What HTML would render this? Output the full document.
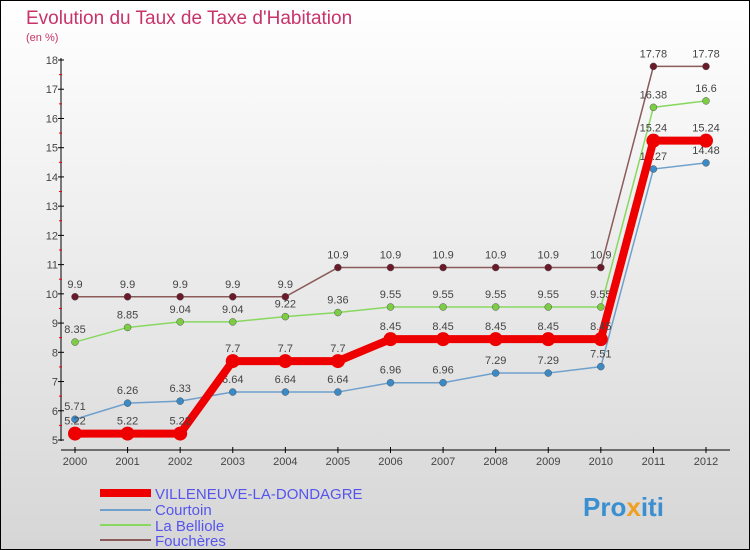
<!DOCTYPE html>
<html><head><meta charset="utf-8"><style>
body{margin:0}
svg{display:block;font-family:"Liberation Sans",sans-serif}
</style></head><body>
<svg id="c" width="750" height="550" viewBox="0 0 750 550">
<defs><linearGradient id="bg" x1="0" y1="0" x2="0" y2="1"><stop offset="0" stop-color="#ffffff"/><stop offset="1" stop-color="#d6d6d6"/></linearGradient></defs>
<rect x="0.5" y="0.5" width="749" height="549" fill="url(#bg)" stroke="#000"/>
<text x="26" y="24" font-size="19" fill="#c8336a">Evolution du Taux de Taxe d'Habitation</text>
<text x="26" y="41" font-size="11" fill="#c8336a">(en %)</text>
<g id="axes"></g><g id="series"></g>
<g>
<line x1="100" y1="493" x2="151" y2="493" stroke="#e00" stroke-width="8"/>
<text x="155" y="499" font-size="15" fill="#5555ee">VILLENEUVE-LA-DONDAGRE</text>
<line x1="100" y1="510" x2="151" y2="510" stroke="#6fa0cc" stroke-width="2"/>
<text x="155" y="515" font-size="15" fill="#5555ee">Courtoin</text>
<line x1="100" y1="525" x2="151" y2="525" stroke="#88d860" stroke-width="2"/>
<text x="155" y="531" font-size="15" fill="#5555ee">La Belliole</text>
<line x1="100" y1="540" x2="151" y2="540" stroke="#8b5a5a" stroke-width="2"/>
<text x="155" y="546" font-size="15" fill="#5555ee">Fouchères</text>
</g>
<text x="583" y="516" font-size="26" font-weight="bold" fill="#3a8fd0">Pro<tspan fill="#f0a020">x</tspan>iti</text>
</svg>
<script>
const years=[2000,2001,2002,2003,2004,2005,2006,2007,2008,2009,2010,2011,2012];
const yTicks=[5,6,7,8,9,10,11,12,13,14,15,16,17,18];
const villeneuve=[5.22,5.22,5.22,7.7,7.7,7.7,8.45,8.45,8.45,8.45,8.45,15.24,15.24];
const courtoin=[5.71,6.26,6.33,6.64,6.64,6.64,6.96,6.96,7.29,7.29,7.51,14.27,14.48];
const belliole=[8.35,8.85,9.04,9.04,9.22,9.36,9.55,9.55,9.55,9.55,9.55,16.38,16.6];
const foucheres=[9.9,9.9,9.9,9.9,9.9,10.9,10.9,10.9,10.9,10.9,10.9,17.78,17.78];
const NS="http://www.w3.org/2000/svg";
const X=i=>75+i*(706-75)/(years.length-1);
const Y=v=>440-(v-5)*(380/13);
function mk(t,a,p){const e=document.createElementNS(NS,t);for(const k in a)e.setAttribute(k,a[k]);p.appendChild(e);return e;}
const ax=document.getElementById('axes');
mk('line',{x1:61,y1:58,x2:61,y2:441,stroke:'#000'},ax);
mk('line',{x1:61,y1:450,x2:730,y2:450,stroke:'#000'},ax);
yTicks.forEach(v=>{
 mk('line',{x1:58,y1:Y(v),x2:64,y2:Y(v),stroke:'#000'},ax);
 if(v<18)mk('line',{x1:59,y1:Y(v+0.5),x2:62,y2:Y(v+0.5),stroke:'#e00'},ax);
 const t=mk('text',{x:58,y:Y(v)+4,'font-size':11,'text-anchor':'end',fill:'#444'},ax);t.textContent=v;
 
 
});
years.forEach((y,i)=>{
 mk('line',{x1:X(i),y1:447,x2:X(i),y2:453,stroke:'#000'},ax);
 const t=mk('text',{x:X(i),y:465,'font-size':11,'text-anchor':'middle',fill:'#444'},ax);t.textContent=y;
 
 
});
const sg=document.getElementById('series');
function draw(arr,color,w,r,name,fill){
 const g=mk('g',{},sg);
 
 
 mk('polyline',{points:arr.map((v,i)=>X(i)+','+Y(v)).join(' '),fill:'none',stroke:color,'stroke-width':w},g);
 arr.forEach((v,i)=>{
  const c=mk('circle',{cx:X(i),cy:Y(v),r:r,fill:fill,stroke:w>3?'none':'#555','stroke-width':0.5},g);
  
  
  const t=mk('text',{x:X(i),y:Y(v)-9,'font-size':11,'text-anchor':'middle',fill:'#444'},g);t.textContent=v;
  
  
 });
}
draw(foucheres,'#8b5a5a',1.5,3.5,'foucheres-series','#6b1a2a');
draw(belliole,'#88d860',1.5,3.5,'la-belliole-series','#7ccc44');
draw(courtoin,'#6fa0cc',1.5,3.5,'courtoin-series','#3a8ac8');
draw(villeneuve,'#e00',8,7,'villeneuve-series','#e00');
</script>
</body></html>
